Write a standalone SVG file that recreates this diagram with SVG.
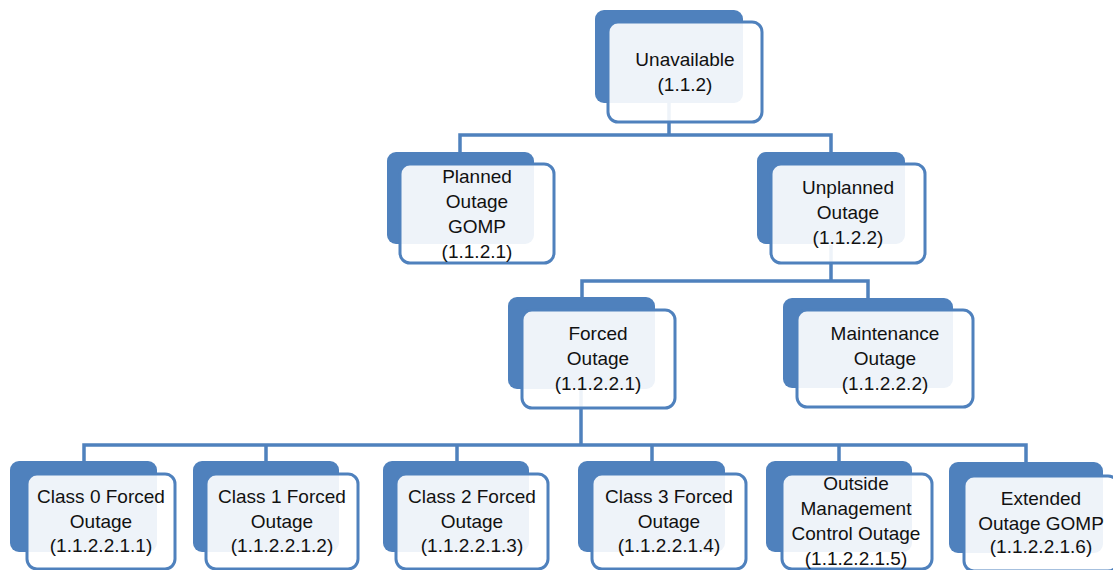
<svg xmlns="http://www.w3.org/2000/svg" width="1113" height="570" viewBox="0 0 1113 570">
<style>
.bk{fill:#4f81bd}
.fr{fill:#ffffff;fill-opacity:0.9;stroke:#4f81bd;stroke-width:3}
.cn{fill:none;stroke:#4f81bd;stroke-width:3.5}
text{font-family:"Liberation Sans",Arial,sans-serif;font-size:19px;fill:#111;text-anchor:middle}
</style>
<rect width="1113" height="570" fill="#ffffff"/>
<g id="connectors">
<path class="cn" d="M669,103 V135 M460,152 V135 H831 V152"/>
<path class="cn" d="M831,245 V281 M582,297 V281 H868 V298"/>
<path class="cn" d="M581,389 V445 M84,461 V445 H1026 V462 M266,445 V461 M457,445 V461 M652,445 V461 M839,445 V461"/>
</g>
<g id="n-unavailable">
<rect class="bk" x="595" y="10" width="148" height="93" rx="9"/>
<rect class="fr" x="608" y="22" width="154" height="100" rx="10"/>
<text x="685" y="66">Unavailable</text>
<text x="685" y="91">(1.1.2)</text>
</g>
<g id="n-planned">
<rect class="bk" x="387" y="152" width="147" height="92" rx="9"/>
<rect class="fr" x="400" y="164" width="154" height="99" rx="10"/>
<text x="477" y="183">Planned</text>
<text x="477" y="208">Outage</text>
<text x="477" y="233">GOMP</text>
<text x="477" y="258">(1.1.2.1)</text>
</g>
<g id="n-unplanned">
<rect class="bk" x="757" y="152" width="148" height="92" rx="9"/>
<rect class="fr" x="771" y="164" width="154" height="99" rx="10"/>
<text x="848" y="194">Unplanned</text>
<text x="848" y="219">Outage</text>
<text x="848" y="244">(1.1.2.2)</text>
</g>
<g id="n-forced">
<rect class="bk" x="508" y="297" width="147" height="92" rx="9"/>
<rect class="fr" x="522" y="310" width="153" height="98" rx="10"/>
<text x="598" y="340">Forced</text>
<text x="598" y="365">Outage</text>
<text x="598" y="390">(1.1.2.2.1)</text>
</g>
<g id="n-maintenance">
<rect class="bk" x="783" y="298" width="170" height="90" rx="9"/>
<rect class="fr" x="797" y="310" width="176" height="97" rx="10"/>
<text x="885" y="340">Maintenance</text>
<text x="885" y="365">Outage</text>
<text x="885" y="390">(1.1.2.2.2)</text>
</g>
<g id="n-class0">
<rect class="bk" x="10" y="461" width="147" height="91" rx="9"/>
<rect class="fr" x="27" y="474" width="148" height="95" rx="10"/>
<text x="101" y="503">Class 0 Forced</text>
<text x="101" y="528">Outage</text>
<text x="101" y="552">(1.1.2.2.1.1)</text>
</g>
<g id="n-class1">
<rect class="bk" x="193" y="461" width="146" height="91" rx="9"/>
<rect class="fr" x="206" y="474" width="152" height="95" rx="10"/>
<text x="282" y="503">Class 1 Forced</text>
<text x="282" y="528">Outage</text>
<text x="282" y="552">(1.1.2.2.1.2)</text>
</g>
<g id="n-class2">
<rect class="bk" x="383" y="461" width="146" height="91" rx="9"/>
<rect class="fr" x="396" y="474" width="152" height="95" rx="10"/>
<text x="472" y="503">Class 2 Forced</text>
<text x="472" y="528">Outage</text>
<text x="472" y="552">(1.1.2.2.1.3)</text>
</g>
<g id="n-class3">
<rect class="bk" x="578" y="461" width="147" height="91" rx="9"/>
<rect class="fr" x="592" y="474" width="154" height="95" rx="10"/>
<text x="669" y="503">Class 3 Forced</text>
<text x="669" y="528">Outage</text>
<text x="669" y="552">(1.1.2.2.1.4)</text>
</g>
<g id="n-outside">
<rect class="bk" x="766" y="461" width="146" height="91" rx="9"/>
<rect class="fr" x="782" y="474" width="150" height="95" rx="10"/>
<text x="856" y="490">Outside</text>
<text x="856" y="515">Management</text>
<text x="856" y="540">Control Outage</text>
<text x="856" y="565">(1.1.2.2.1.5)</text>
</g>
<g id="n-extended">
<rect class="bk" x="949" y="462" width="154" height="91" rx="9"/>
<rect class="fr" x="964" y="476" width="154" height="95" rx="10"/>
<text x="1041" y="505">Extended</text>
<text x="1041" y="530">Outage GOMP</text>
<text x="1041" y="553">(1.1.2.2.1.6)</text>
</g>
</svg>
